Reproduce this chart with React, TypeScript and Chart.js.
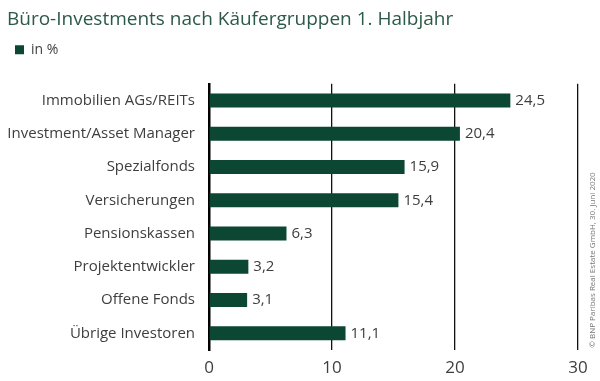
import React, { useEffect, useRef } from "react";
import { Chart, registerables } from "chart.js";

Chart.register(...registerables);

const categories = [
  "Immobilien AGs/REITs",
  "Investment/Asset Manager",
  "Spezialfonds",
  "Versicherungen",
  "Pensionskassen",
  "Projektentwickler",
  "Offene Fonds",
  "Übrige Investoren",
];
const values = [24.5, 20.4, 15.9, 15.4, 6.3, 3.2, 3.1, 11.1];
const xTicks = [0, 10, 20, 30];
const titleText = "Büro-Investments nach Käufergruppen 1. Halbjahr";
const seriesLabel = "in %";
const sourceText = "© BNP Paribas Real Estate GmbH, 30. Juni 2020";

const GREEN = "#0b4732";
const TEXT = "#3e3e3e";
const FONT = "'Open Sans', sans-serif";

const valueLabels = {
  id: "valueLabels",
  afterDatasetsDraw(chart: any) {
    const ctx = chart.ctx;
    const meta = chart.getDatasetMeta(0);
    ctx.save();
    ctx.font = `15px ${FONT}`;
    ctx.fillStyle = TEXT;
    ctx.textAlign = "left";
    ctx.textBaseline = "middle";
    meta.data.forEach((bar: any, i: number) => {
      const v = values[i];
      ctx.fillText(v.toFixed(1).replace(".", ","), bar.x + 5, bar.y);
    });
    ctx.restore();
  },
};

const legendGap = {
  id: "legendGap",
  afterInit(chart: any) {
    const legend = chart.legend;
    if (legend && !legend.__patched) {
      const orig = legend.fit.bind(legend);
      legend.fit = function () {
        orig();
        this.height += 17;
      };
      legend.__patched = true;
    }
  },
};

const sourceNote = {
  id: "sourceNote",
  afterDraw(chart: any) {
    const ctx = chart.ctx;
    ctx.save();
    ctx.font = `8px ${FONT}`;
    ctx.fillStyle = "#777";
    ctx.translate(593, 260);
    ctx.rotate(-Math.PI / 2);
    ctx.textAlign = "center";
    ctx.textBaseline = "middle";
    ctx.fillText(sourceText, 0, 0);
    ctx.restore();
  },
};

export default function App() {
  const ref = useRef<HTMLCanvasElement>(null);
  useEffect(() => {
    if (!ref.current) return;
    const chart = new Chart(ref.current, {
      type: "bar",
      data: {
        labels: categories,
        datasets: [
          {
            label: seriesLabel,
            data: values,
            backgroundColor: GREEN,
            borderWidth: 0,
            barPercentage: 0.42,
            categoryPercentage: 1,
          },
        ],
      },
      options: {
        indexAxis: "y",
        animation: false,
        responsive: false,
        maintainAspectRatio: false,
        layout: { padding: { left: 7, right: 22, top: 1, bottom: 3 } },
        plugins: {
          title: {
            display: true,
            text: titleText,
            align: "start",
            color: "#2d5a48",
            font: { family: FONT, size: 19, weight: "normal" },
            padding: { top: 7, bottom: 4 },
          },
          legend: {
            display: true,
            align: "start",
            labels: {
              boxWidth: 9,
              boxHeight: 9,
              padding: 8,
              color: TEXT,
              font: { family: FONT, size: 14 },
            },
          },
          tooltip: { enabled: false },
        },
        scales: {
          x: {
            min: 0,
            max: 30,
            afterBuildTicks: (axis: any) => {
              axis.ticks = xTicks.map((v) => ({ value: v }));
            },
            afterFit: (scale: any) => {
              scale.height = 28;
            },
            grid: { color: "#111", lineWidth: 1.3, drawTicks: false },
            border: { display: false },
            ticks: {
              color: TEXT,
              font: { family: FONT, size: 17 },
              padding: 8,
            },
          },
          y: {
            afterFit: (scale: any) => {
              scale.width = 202;
            },
            grid: { display: false, drawTicks: false },
            border: { display: true, color: "#000", width: 2.5 },
            ticks: {
              color: TEXT,
              font: { family: FONT, size: 15 },
              padding: 14,
            },
          },
        },
      },
      plugins: [legendGap, valueLabels, sourceNote],
    });
    return () => chart.destroy();
  }, []);
  return (
    <div style={{ position: "fixed", left: 0, top: 0, width: 600, height: 381, background: "#fff" }}>
      <canvas ref={ref} width={600} height={381} />
    </div>
  );
}
